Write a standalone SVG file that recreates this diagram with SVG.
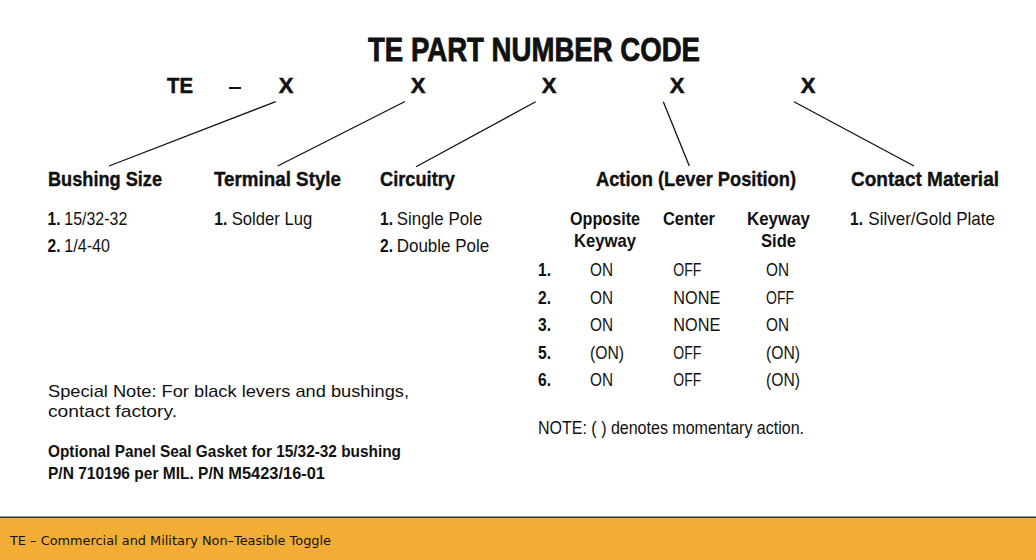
<svg xmlns="http://www.w3.org/2000/svg" width="1036" height="560" viewBox="0 0 1036 560">
<style>
text{font-family:"Liberation Sans Narrow","Liberation Sans",Arial,sans-serif;fill:#111}
.t{font-size:33px;font-weight:bold;stroke:#111;stroke-width:0.8}
.c{font-size:22px;font-weight:bold;stroke:#111;stroke-width:0.5}
.h{font-size:21px;font-weight:bold;stroke:#111;stroke-width:0.4}
.i{font-size:18.5px}
.n{font-size:18.5px;font-weight:bold}
.r{font-size:18px}
.s{font-family:"Liberation Sans",Arial,sans-serif;font-size:17px}
.g{font-size:16.5px;font-weight:bold}
.f{font-family:"DejaVu Sans",Verdana,sans-serif;font-size:12.5px}
.ln{stroke:#111;stroke-width:1.3;fill:none}
</style>
<rect width="1036" height="560" fill="#fff"/>
<g id="title">
<text class="t" x="368" y="61" textLength="332" lengthAdjust="spacingAndGlyphs">TE PART NUMBER CODE</text>
</g>
<g id="code">
<text class="c" x="167" y="93" textLength="26" lengthAdjust="spacingAndGlyphs">TE</text>
<rect x="229" y="87" width="12" height="2" fill="#111"/>
<text class="c" x="286" y="93" text-anchor="middle">X</text>
<text class="c" x="418" y="93" text-anchor="middle">X</text>
<text class="c" x="549" y="93" text-anchor="middle">X</text>
<text class="c" x="677" y="93" text-anchor="middle">X</text>
<text class="c" x="808" y="93" text-anchor="middle">X</text>
</g>
<g id="connectors" class="ln">
<line x1="275.7" y1="101.7" x2="109" y2="166"/>
<line x1="405" y1="101.5" x2="277.7" y2="166"/>
<line x1="535.7" y1="101.7" x2="416" y2="166.7"/>
<line x1="663.3" y1="101.7" x2="689.3" y2="166"/>
<line x1="794" y1="101.7" x2="914" y2="166"/>
</g>
<g id="bushing-size">
<text class="h" x="48" y="186" textLength="114" lengthAdjust="spacingAndGlyphs">Bushing Size</text>
<text class="n" x="47.5" y="225" textLength="13" lengthAdjust="spacingAndGlyphs">1.</text>
<text class="i" x="64.3" y="225" textLength="63" lengthAdjust="spacingAndGlyphs">15/32-32</text>
<text class="n" x="47.5" y="252" textLength="13" lengthAdjust="spacingAndGlyphs">2.</text>
<text class="i" x="64.3" y="252" textLength="45.7" lengthAdjust="spacingAndGlyphs">1/4-40</text>
</g>
<g id="terminal-style">
<text class="h" x="214" y="186" textLength="127" lengthAdjust="spacingAndGlyphs">Terminal Style</text>
<text class="n" x="214.3" y="225" textLength="13" lengthAdjust="spacingAndGlyphs">1.</text>
<text class="i" x="231.7" y="225" textLength="80.6" lengthAdjust="spacingAndGlyphs">Solder Lug</text>
</g>
<g id="circuitry">
<text class="h" x="380" y="186" textLength="75" lengthAdjust="spacingAndGlyphs">Circuitry</text>
<text class="n" x="380" y="225" textLength="13" lengthAdjust="spacingAndGlyphs">1.</text>
<text class="i" x="396.7" y="225" textLength="85.6" lengthAdjust="spacingAndGlyphs">Single Pole</text>
<text class="n" x="380" y="252" textLength="13" lengthAdjust="spacingAndGlyphs">2.</text>
<text class="i" x="396.7" y="252" textLength="92.6" lengthAdjust="spacingAndGlyphs">Double Pole</text>
</g>
<g id="action">
<text class="h" x="596" y="186" textLength="200" lengthAdjust="spacingAndGlyphs">Action (Lever Position)</text>
<text class="n" x="605" y="225" text-anchor="middle" textLength="70" lengthAdjust="spacingAndGlyphs">Opposite</text>
<text class="n" x="605" y="247" text-anchor="middle" textLength="62" lengthAdjust="spacingAndGlyphs">Keyway</text>
<text class="n" x="663" y="225" textLength="52" lengthAdjust="spacingAndGlyphs">Center</text>
<text class="n" x="778.5" y="225" text-anchor="middle" textLength="63" lengthAdjust="spacingAndGlyphs">Keyway</text>
<text class="n" x="778.5" y="247" text-anchor="middle" textLength="35" lengthAdjust="spacingAndGlyphs">Side</text>
<text class="n" x="538" y="276" textLength="13" lengthAdjust="spacingAndGlyphs">1.</text>
<text class="r" x="590" y="276" textLength="23" lengthAdjust="spacingAndGlyphs">ON</text>
<text class="r" x="673.3" y="276" textLength="28" lengthAdjust="spacingAndGlyphs">OFF</text>
<text class="r" x="766" y="276" textLength="23" lengthAdjust="spacingAndGlyphs">ON</text>
<text class="n" x="538" y="303.5" textLength="13" lengthAdjust="spacingAndGlyphs">2.</text>
<text class="r" x="590" y="303.5" textLength="23" lengthAdjust="spacingAndGlyphs">ON</text>
<text class="r" x="673.3" y="303.5" textLength="47" lengthAdjust="spacingAndGlyphs">NONE</text>
<text class="r" x="766" y="303.5" textLength="28" lengthAdjust="spacingAndGlyphs">OFF</text>
<text class="n" x="538" y="331" textLength="13" lengthAdjust="spacingAndGlyphs">3.</text>
<text class="r" x="590" y="331" textLength="23" lengthAdjust="spacingAndGlyphs">ON</text>
<text class="r" x="673.3" y="331" textLength="47" lengthAdjust="spacingAndGlyphs">NONE</text>
<text class="r" x="766" y="331" textLength="23" lengthAdjust="spacingAndGlyphs">ON</text>
<text class="n" x="538" y="358.5" textLength="13" lengthAdjust="spacingAndGlyphs">5.</text>
<text class="r" x="590" y="358.5" textLength="34" lengthAdjust="spacingAndGlyphs">(ON)</text>
<text class="r" x="673.3" y="358.5" textLength="28" lengthAdjust="spacingAndGlyphs">OFF</text>
<text class="r" x="766" y="358.5" textLength="34" lengthAdjust="spacingAndGlyphs">(ON)</text>
<text class="n" x="538" y="386" textLength="13" lengthAdjust="spacingAndGlyphs">6.</text>
<text class="r" x="590" y="386" textLength="23" lengthAdjust="spacingAndGlyphs">ON</text>
<text class="r" x="673.3" y="386" textLength="28" lengthAdjust="spacingAndGlyphs">OFF</text>
<text class="r" x="766" y="386" textLength="34" lengthAdjust="spacingAndGlyphs">(ON)</text>
<text class="r" x="538" y="434" textLength="266" lengthAdjust="spacingAndGlyphs">NOTE: ( ) denotes momentary action.</text>
</g>
<g id="contact-material">
<text class="h" x="851" y="186" textLength="148" lengthAdjust="spacingAndGlyphs">Contact Material</text>
<text class="n" x="850" y="225" textLength="13" lengthAdjust="spacingAndGlyphs">1.</text>
<text class="i" x="868.3" y="225" textLength="126.7" lengthAdjust="spacingAndGlyphs">Silver/Gold Plate</text>
</g>
<g id="notes">
<text class="s" x="48" y="396.5" textLength="361" lengthAdjust="spacingAndGlyphs">Special Note: For black levers and bushings,</text>
<text class="s" x="48" y="416.5" textLength="129" lengthAdjust="spacingAndGlyphs">contact factory.</text>
<text class="g" x="48" y="457" textLength="353" lengthAdjust="spacingAndGlyphs">Optional Panel Seal Gasket for 15/32-32 bushing</text>
<text class="g" x="48" y="479" textLength="176" lengthAdjust="spacingAndGlyphs">P/N 710196 per MIL. P/N</text>
<text class="g" x="228.3" y="479" font-size="18.5" textLength="96.7" lengthAdjust="spacingAndGlyphs">M5423/16-01</text>
</g>
<g id="footer">
<rect x="0" y="517" width="1036" height="43" fill="#F2AE34"/>
<rect x="0" y="516.5" width="1036" height="1.5" fill="#333"/>
<text class="f" x="10" y="545" textLength="321" lengthAdjust="spacingAndGlyphs">TE – Commercial and Military Non–Teasible Toggle</text>
</g>
</svg>
